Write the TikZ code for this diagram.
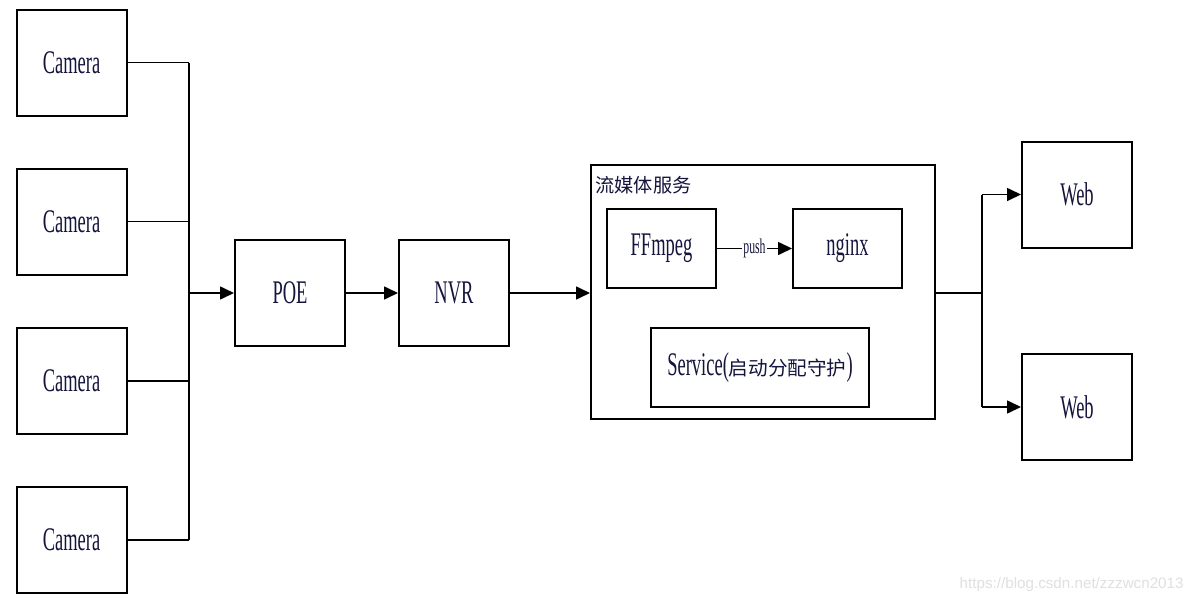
\documentclass[tikz,border=0pt]{standalone}
\usepackage{fontspec}
\usetikzlibrary{arrows.meta}
\newfontfamily\narrow{Liberation Serif}[FakeStretch=0.56]
\newfontfamily\cjk{Noto Sans CJK SC}
\newfontfamily\wm{Liberation Sans}
\definecolor{txt}{RGB}{20,20,60}
\begin{document}
\begin{tikzpicture}[x=0.5pt,y=-0.5pt,
  box/.style={draw,line width=1pt,inner sep=0pt,text=txt,font=\narrow\fontsize{16.5}{18}\selectfont},
  arr/.style={line width=0.8pt,-{Triangle[length=7pt,width=6.5pt]}},
  ln/.style={line width=0.8pt}]
\useasboundingbox[fill=white] (0,0) rectangle (1194,605);
% cameras
\node[box,minimum width=55pt,minimum height=53pt] (cam1) at (71.5,62.5) {Camera};
\node[box,minimum width=55pt,minimum height=53pt] (cam2) at (71.5,221.5) {Camera};
\node[box,minimum width=55pt,minimum height=53pt] (cam3) at (71.5,381) {Camera};
\node[box,minimum width=55pt,minimum height=53pt] (cam4) at (71.5,540) {Camera};
\coordinate (j1) at (189,62.5);
\coordinate (j2) at (189,221.5);
\coordinate (j3) at (189,381);
\coordinate (j4) at (189,540);
\coordinate (jm) at (189,293);
\draw[ln] (cam1.east) -- (j1);
\draw[ln] (cam2.east) -- (j2);
\draw[ln] (cam3.east) -- (j3);
\draw[ln] (cam4.east) -- (j4);
\draw[ln] (j1) -- (j4);
% POE, NVR
\node[box,minimum width=55pt,minimum height=53pt] (poe) at (290,293) {POE};
\node[box,minimum width=55pt,minimum height=53pt] (nvr) at (454,293) {NVR};
\draw[arr] (jm) -- (poe.west);
\draw[arr] (poe.east) -- (nvr.west);
% streaming service
\node[box,minimum width=172pt,minimum height=127pt] (svc) at (763,292) {};
\node[anchor=north west,inner sep=0pt,text=txt,font=\cjk\fontsize{9.6}{11}\selectfont] (svclabel) at (595,176) {流媒体服务};
\draw[arr] (nvr.east) -- (nvr.east -| svc.west);
\node[box,minimum width=54.5pt,minimum height=39.5pt] (ffm) at (661.5,248.5) {FFmpeg};
\node[box,minimum width=54.5pt,minimum height=39.5pt] (ngx) at (847.5,248.5) {nginx};
\draw[arr] (ffm.east) -- node[fill=white,inner sep=0.5pt,text=txt,font=\narrow\fontsize{10.5}{11}\selectfont] (pushlbl) {push} (ngx.west);
\node[box,minimum width=109pt,minimum height=39.5pt] (serv) at (760,367.5) {Service(\cjk\fontsize{9.8}{11}\selectfont 启动分配守护\narrow\fontsize{16.5}{18}\selectfont)};
% web
\node[box,minimum width=55pt,minimum height=53pt] (web1) at (1077,194.5) {Web};
\node[box,minimum width=55pt,minimum height=53pt] (web2) at (1077,407) {Web};
\coordinate (k) at (982,293);
\coordinate (k1) at (982,194.5);
\coordinate (k2) at (982,407);
\draw[ln] (svc.east |- k) -- (k);
\draw[ln] (k1) -- (k2);
\draw[arr] (k1) -- (web1.west);
\draw[arr] (k2) -- (web2.west);
% watermark
\node[anchor=east,inner sep=0pt,text=black!12,font=\wm\fontsize{7.6}{9}\selectfont] (wmk) at (1184,585) {https://blog.csdn.net/zzzwcn2013};
\end{tikzpicture}
\end{document}
